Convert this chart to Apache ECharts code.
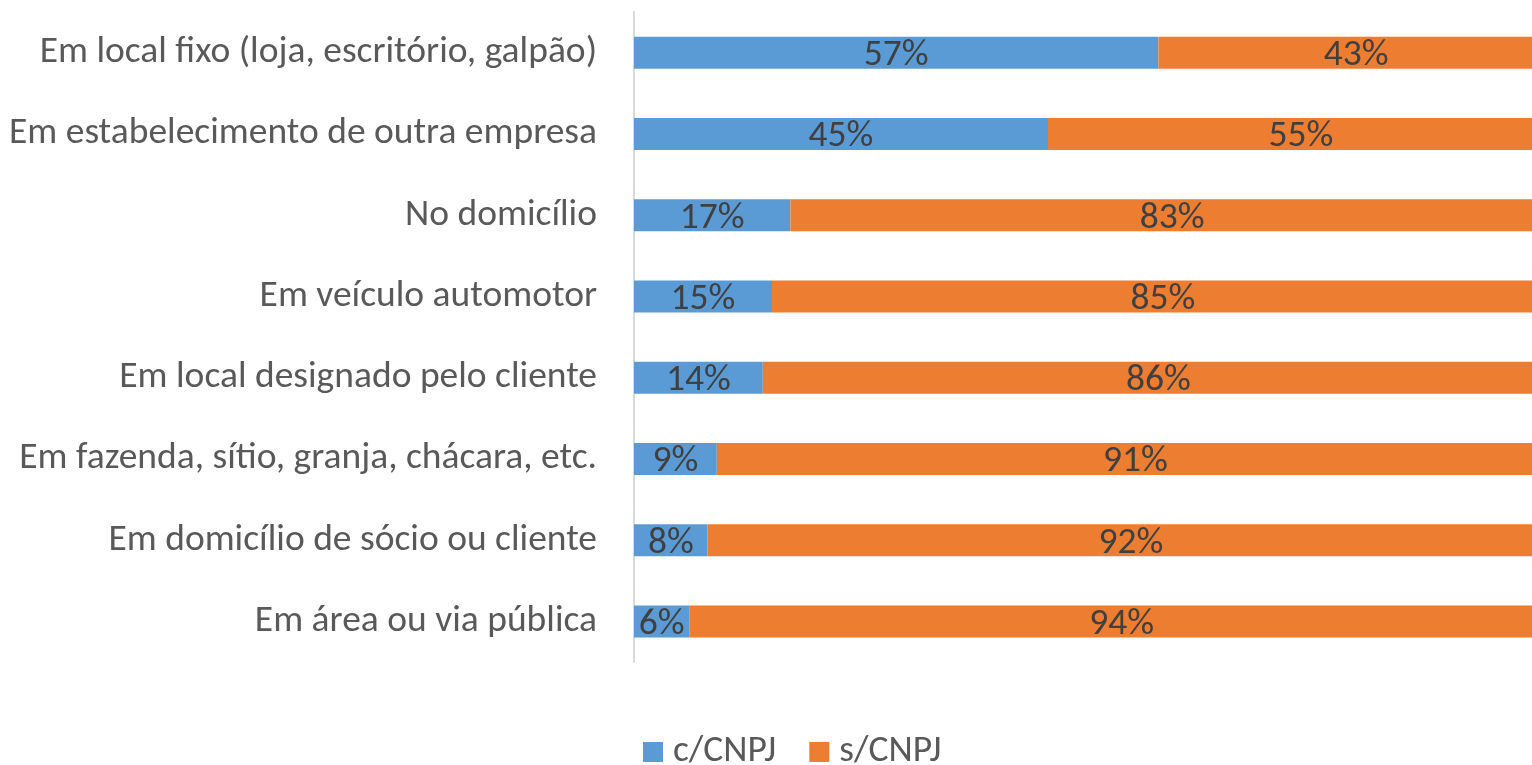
<!DOCTYPE html>
<html><head><meta charset="utf-8">
<script src="https://cdn.jsdelivr.net/npm/echarts@6/dist/echarts.min.js"></script>
<style>html,body{margin:0;padding:0;background:#fff}#c{width:1532px;height:765px}</style>
</head><body><div id="c"></div>
<script>
const categories = [
  "Em local fixo (loja, escritório, galpão)",
  "Em estabelecimento de outra empresa",
  "No domicílio",
  "Em veículo automotor",
  "Em local designado pelo cliente",
  "Em fazenda, sítio, granja, chácara, etc.",
  "Em domicílio de sócio ou cliente",
  "Em área ou via pública"
];
const comCNPJ = [57, 45, 17, 15, 14, 9, 8, 6];
const semCNPJ = [43, 55, 83, 85, 86, 91, 92, 94];
const seriesNames = ["c/CNPJ", "s/CNPJ"];

const FONT = "Carlito, 'Open Sans', sans-serif";
const FS = 37.5;
const chart = echarts.init(document.getElementById('c'));
const lbl = {show: true, position: 'inside', offset: [0, 3], formatter: p => p.value + '%', color: '#404040', fontSize: FS, fontFamily: FONT};
chart.setOption({
  animation: false,
  grid: {left: 634, width: 920, top: 12, height: 650, outerBoundsMode: 'none', containLabel: false},
  legend: {
    top: 728, left: 638, itemWidth: 20, itemHeight: 20, itemGap: 33, icon: 'rect',
    textStyle: {fontSize: FS, color: '#595959', fontFamily: FONT, padding: [0, 0, 0, 5]},
    data: seriesNames
  },
  xAxis: {type: 'value', min: 0, max: 100, show: false},
  yAxis: {
    type: 'category', data: categories, inverse: true,
    axisLine: {show: true, lineStyle: {color: '#d9d9d9', width: 2}},
    axisTick: {show: false},
    axisLabel: {fontSize: FS, color: '#595959', fontFamily: FONT, margin: 37, padding: [6, 0, 0, 0]}
  },
  series: [
    {name: seriesNames[0], type: 'bar', stack: 't', data: comCNPJ, barWidth: 32,
     itemStyle: {color: '#5B9BD5'}, label: lbl},
    {name: seriesNames[1], type: 'bar', stack: 't', data: semCNPJ, barWidth: 32,
     itemStyle: {color: '#ED7D31'}, label: lbl}
  ]
});
</script></body></html>
